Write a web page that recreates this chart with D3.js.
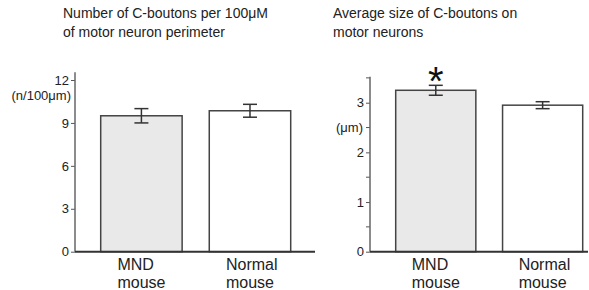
<!DOCTYPE html>
<html>
<head>
<meta charset="utf-8">
<script src="https://cdn.jsdelivr.net/npm/d3@7"></script>
<style>
  body { margin: 0; background: #fff; }
  svg { display: block; font-family: "Liberation Sans", Arial, sans-serif; }
</style>
</head>
<body>
<svg id="chart" width="589" height="290"></svg>
<script>
// data
const categories = ["MND mouse", "Normal mouse"];
const countMeans = [9.5, 9.85];
const countErr = [0.5, 0.45];
const sizeMeans = [3.25, 2.95];
const sizeErr = [0.1, 0.07];
const countTicks = [0, 3, 6, 9, 12];
const sizeTicks = [0, 1, 2, 3];
const sizeMinorTicks = [0.5, 1.5, 2.5, 3.5];
const barFills = ["#e9e9e9", "#ffffff"];

const svg = d3.select("#chart");
const baseY = 251.7;

function panel(opts) {
  const g = svg.append("g");

  const x = d3.scaleBand()
    .domain(categories)
    .range(opts.barRange)
    .paddingInner(0.25)
    .paddingOuter(0);

  const y = d3.scaleLinear()
    .domain(opts.yDomain)
    .range([baseY, opts.yTop]);

  // title
  const title = g.append("text")
    .attr("x", opts.titleX)
    .attr("y", 18)
    .attr("font-size", 14)
    .attr("fill", "#222");
  opts.title.forEach((line, i) => {
    title.append("tspan")
      .attr("x", opts.titleX)
      .attr("dy", i === 0 ? 0 : 19)
      .text(line);
  });

  // y axis
  const yAxis = d3.axisLeft(y)
    .tickValues(opts.ticks)
    .tickSize(4)
    .tickPadding(2)
    .tickFormat(d3.format("d"));

  const yAxisG = g.append("g")
    .attr("transform", `translate(${opts.axisX},0)`)
    .call(yAxis);
  yAxisG.select(".domain").remove();
  yAxisG.selectAll(".tick line").attr("stroke", "#555").attr("stroke-width", 1);
  yAxisG.selectAll(".tick text")
    .attr("font-size", 13)
    .attr("fill", "#222")
    .attr("font-family", "Liberation Sans, Arial, sans-serif");

  if (opts.minor) {
    yAxisG.selectAll(".minor")
      .data(opts.minor)
      .enter()
      .append("line")
      .attr("class", "minor")
      .attr("x1", -4)
      .attr("x2", 0)
      .attr("y1", (d) => y(d))
      .attr("y2", (d) => y(d))
      .attr("stroke", "#555");
  }

  g.append("line")
    .attr("x1", opts.axisX)
    .attr("x2", opts.axisX)
    .attr("y1", baseY)
    .attr("y2", y(opts.axisEnd))
    .attr("stroke", "#666")
    .attr("stroke-width", 1.5);

  g.append("text")
    .attr("x", opts.axisX - opts.unitGap)
    .attr("y", y(opts.unitAt))
    .attr("dy", "0.32em")
    .attr("text-anchor", "end")
    .attr("font-size", 13)
    .attr("fill", "#222")
    .text(opts.unit);

  // bars
  g.selectAll("rect.bar")
    .data(opts.means)
    .enter()
    .append("rect")
    .attr("class", "bar")
    .attr("x", (d, i) => x(categories[i]))
    .attr("y", (d) => y(d))
    .attr("width", x.bandwidth())
    .attr("height", (d) => baseY - y(d))
    .attr("fill", (d, i) => barFills[i])
    .attr("stroke", "#444")
    .attr("stroke-width", 1.5);

  // error bars
  const cap = 7;
  opts.means.forEach((m, i) => {
    const cx = x(categories[i]) + x.bandwidth() / 2;
    const e = opts.err[i];
    const eg = g.append("g").attr("stroke", "#333").attr("stroke-width", 1.5);
    eg.append("line").attr("x1", cx).attr("x2", cx).attr("y1", y(m + e)).attr("y2", y(m - e));
    eg.append("line").attr("x1", cx - cap).attr("x2", cx + cap).attr("y1", y(m + e)).attr("y2", y(m + e));
    eg.append("line").attr("x1", cx - cap).attr("x2", cx + cap).attr("y1", y(m - e)).attr("y2", y(m - e));
  });

  // baseline
  g.append("line")
    .attr("x1", opts.axisX)
    .attr("x2", opts.baseEnd)
    .attr("y1", baseY)
    .attr("y2", baseY)
    .attr("stroke", "#333")
    .attr("stroke-width", 2);

  // category labels
  categories.forEach((c, i) => {
    const cx = x(c) + x.bandwidth() / 2;
    const t = g.append("text")
      .attr("x", cx - 24)
      .attr("y", 270)
      .attr("font-size", 16)
      .attr("fill", "#222");
    c.split(" ").forEach((w, j) => {
      t.append("tspan").attr("x", cx - 24).attr("dy", j === 0 ? 0 : 18).text(w);
    });
  });

  return { g, x, y };
}

panel({
  title: ["Number of C-boutons per 100μM", "of motor neuron perimeter"],
  titleX: 63,
  axisX: 75,
  baseEnd: 315,
  barRange: [100.7, 290.7],
  yDomain: [0, 12],
  yTop: 80,
  axisEnd: 12.55,
  ticks: countTicks,
  unit: "(n/100μm)",
  unitAt: 10.9,
  unitGap: 4,
  means: countMeans,
  err: countErr
});

const right = panel({
  title: ["Average size of C-boutons on", "motor neurons"],
  titleX: 333,
  axisX: 370,
  baseEnd: 588,
  barRange: [395.7, 582.7],
  yDomain: [0, 3],
  yTop: 102.7,
  axisEnd: 3.52,
  ticks: sizeTicks,
  minor: sizeMinorTicks,
  unit: "(μm)",
  unitAt: 2.5,
  unitGap: 7,
  means: sizeMeans,
  err: sizeErr
});

// significance marker
right.g.append("text")
  .attr("x", right.x(categories[0]) + right.x.bandwidth() / 2)
  .attr("y", right.y(sizeMeans[0] + sizeErr[0]) + 10)
  .attr("text-anchor", "middle")
  .attr("font-size", 40)
  .attr("fill", "#111")
  .text("*");
</script>
</body>
</html>
